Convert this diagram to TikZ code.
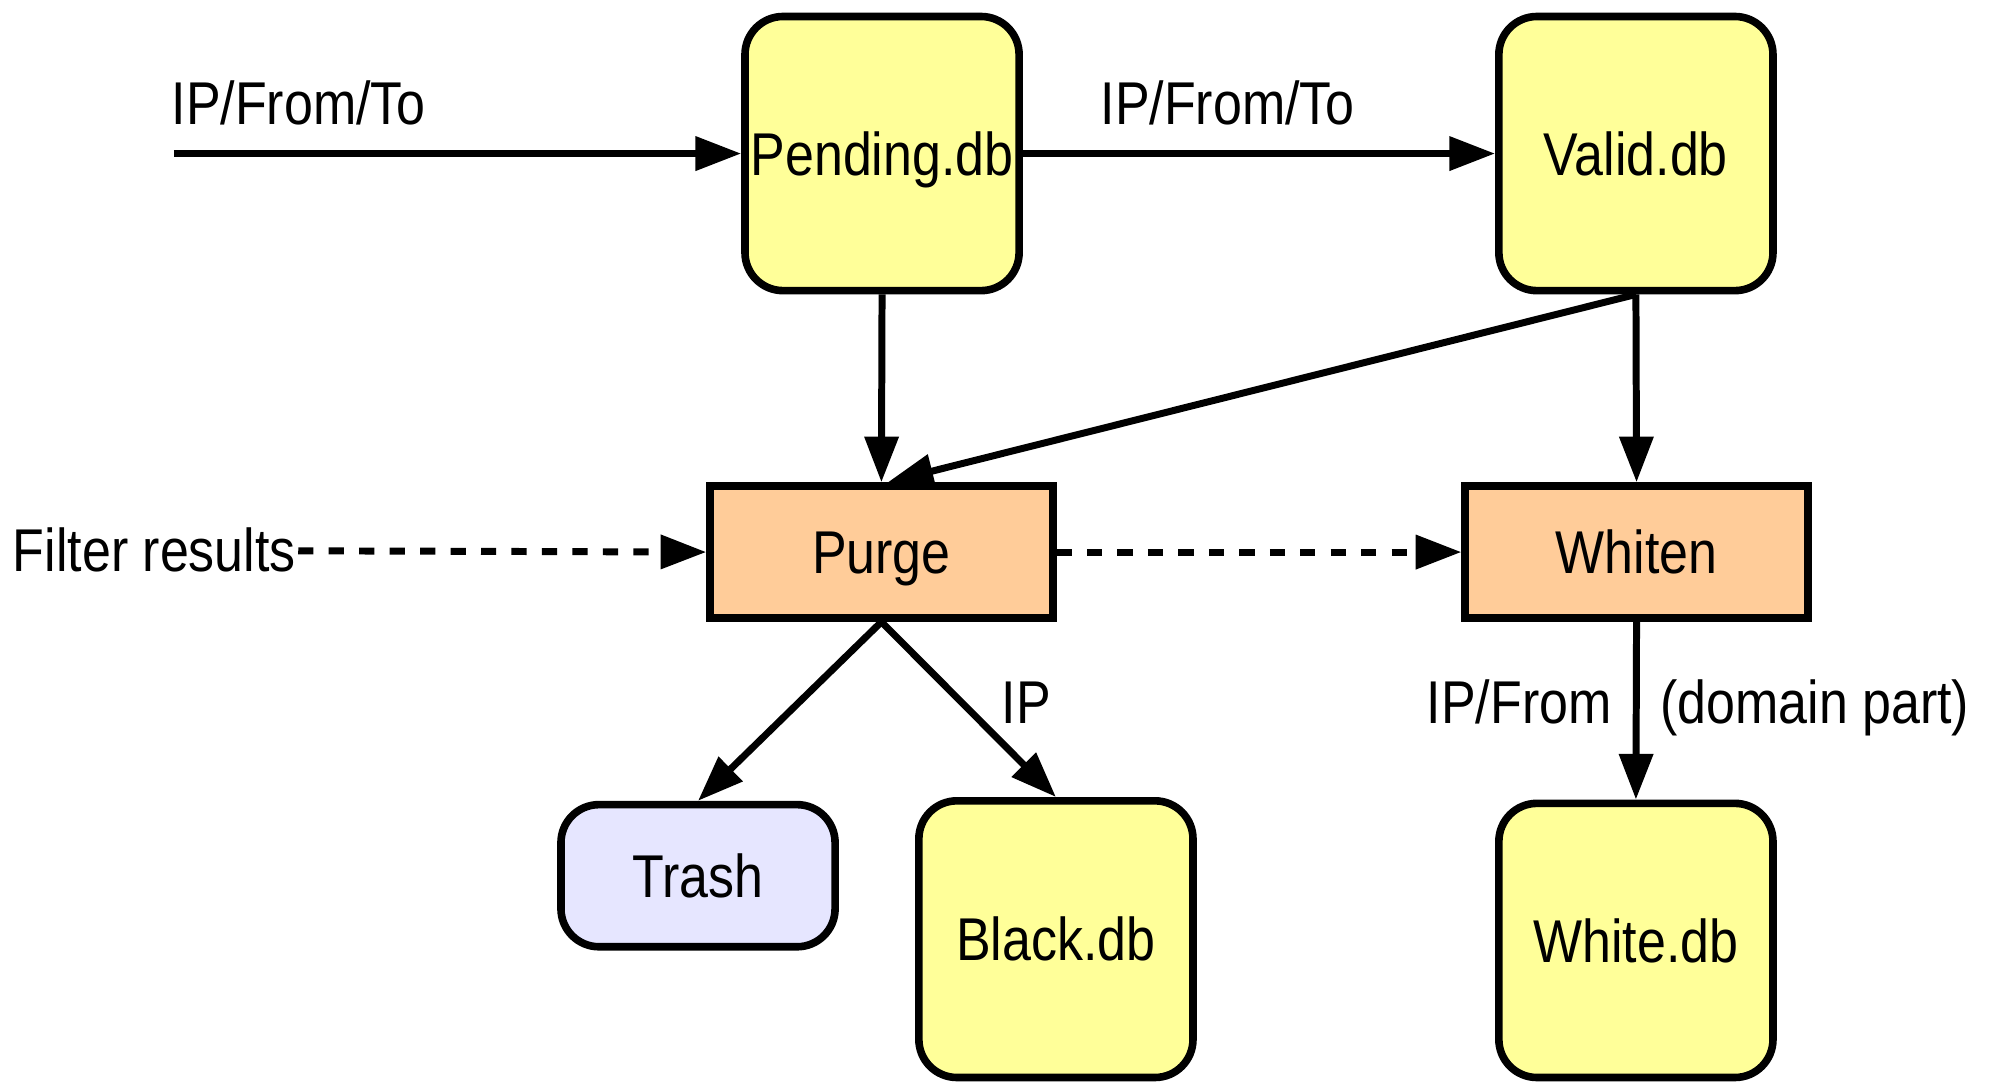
\documentclass[tikz,border=0pt]{standalone}
\usepackage{fontspec}
\setmainfont{Liberation Sans}[FakeStretch=0.86]
\usetikzlibrary{arrows.meta}
\definecolor{dbyellow}{HTML}{FFFF99}
\definecolor{procorange}{HTML}{FFCC99}
\definecolor{trashblue}{HTML}{E6E6FF}
\tikzset{
  every node/.style={font=\fontsize{47.6}{52}\selectfont, inner sep=0pt},
  dbbox/.style={draw, line width=6pt, fill=dbyellow, rounded corners=30pt,
    minimum width=216pt, minimum height=216pt, text height=34pt, text depth=0pt},
  procbox/.style={draw, line width=6pt, fill=procorange,
    minimum width=270pt, minimum height=104pt, text height=34pt, text depth=0pt},
  trashbox/.style={draw, line width=6pt, fill=trashblue, rounded corners=30pt,
    minimum width=216pt, minimum height=112pt, text height=34pt, text depth=0pt},
  arr/.style={line width=5.5pt, -{Triangle[length=36pt,width=26pt]}},
  darr/.style={arr, dash pattern=on 12pt off 12pt},
  lbl/.style={}
}
\begin{document}
\begin{tikzpicture}[x=1pt,y=1pt]
\useasboundingbox (0,0) rectangle (1568,855);
% boxes
\node[dbbox] (pending) at (695,734) {Pending.db};
\node[dbbox] (valid) at (1289,734) {Valid.db};
\node[procbox] (purge) at (694.5,420) {Purge};
\node[procbox] (whiten) at (1289.5,420) {Whiten};
\node[trashbox] (trash) at (550,165) {Trash};
\node[dbbox, minimum height=218pt] (black) at (832,115) {Black.db};
\node[dbbox] (white) at (1289,114) {White.db};
% free ends
\coordinate (in) at (137,734);
% labels
\node[lbl, anchor=base west] (l1) at (135,757) {IP/From/To};
\node[lbl, anchor=base west] (l2) at (867,757) {IP/From/To};
\node[lbl, anchor=base west] (filter) at (10,405) {Filter results};
\coordinate (fr) at (235,421);
\node[lbl, anchor=base west] (lip) at (789,285) {IP};
\node[lbl, anchor=base east] (lipfrom) at (1270,285) {IP/From};
\node[lbl, anchor=base west] (ldom) at (1308,285) {(domain part)};
% connectors
\draw[arr] (in) -- (pending.west);
\draw[arr] (pending.east) -- (valid.west);
\draw[arr] (pending.south) -- (purge.north);
\draw[arr] (valid.south) -- ([xshift=5pt]purge.north);
\draw[arr] (valid.south) -- (whiten.north);
\draw[darr] (fr) -- (purge.west);
\draw[darr] (purge.east) -- (whiten.west);
\draw[arr] (purge.south) -- (trash.north);
\draw[arr] (purge.south) -- (black.north);
\draw[arr] (whiten.south) -- (white.north);
\end{tikzpicture}
\end{document}
